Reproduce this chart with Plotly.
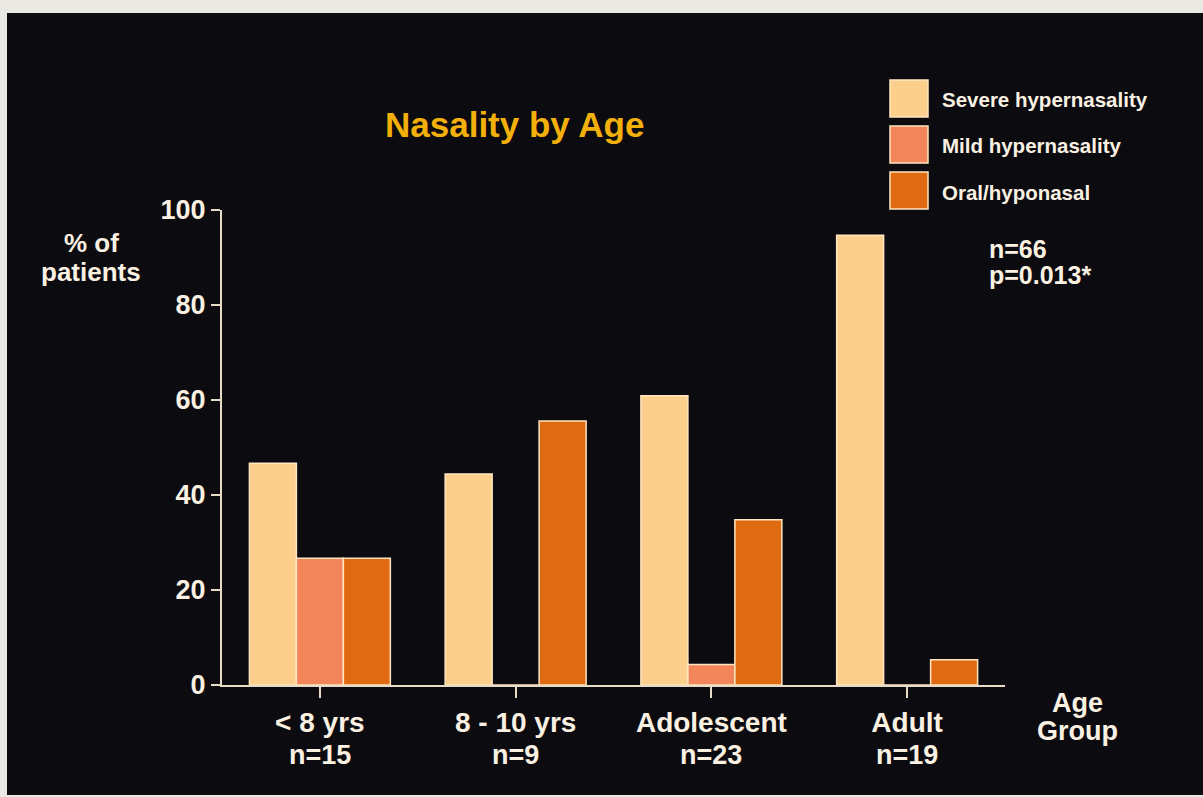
import plotly.graph_objects as go

# ---- data ----
age_groups = ["< 8 yrs", "8 - 10 yrs", "Adolescent", "Adult"]
group_n = [15, 9, 23, 19]
series_names = ["Severe hypernasality", "Mild hypernasality", "Oral/hyponasal"]
severe = [46.7, 44.4, 60.9, 94.7]
mild = [26.7, 0.0, 4.3, 0.0]
oral = [26.7, 55.6, 34.8, 5.3]
y_ticks = [0, 20, 40, 60, 80, 100]
total_n = 66
p_value = "0.013*"

series_values = [severe, mild, oral]
series_colors = ["#fccf8c", "#f2855a", "#e06a12"]

W, H = 1203, 797
L, R, T, B = 222, 198, 210, 112
PW, PH = W - L - R, H - T - B

def px(x):
    return (x - L) / PW

def py(y):
    return (H - B - y) / PH

TEXT = "#fbf1e2"
FONT = "Liberation Sans, Arial, sans-serif"

fig = go.Figure()
for name, vals, col in zip(series_names, series_values, series_colors):
    fig.add_trace(go.Bar(
        x=list(range(len(age_groups))), y=vals, name=name,
        marker=dict(color=col, line=dict(color="#ffe6c0", width=1.5)),
        showlegend=False,
    ))

shapes = [
    # light frame around the dark slide
    dict(type="rect", xref="paper", yref="paper", layer="below",
         x0=px(7), x1=px(W + 5), y0=py(13), y1=py(795),
         fillcolor="#0b0b10", line=dict(width=0)),
]
annotations = []

def label(text, x, y, size, color=TEXT, xanchor="center", xref="paper"):
    annotations.append(dict(
        text=text, x=x if xref != "paper" else px(x), y=py(y),
        xref=xref, yref="paper", xanchor=xanchor, yanchor="middle",
        showarrow=False,
        font=dict(family=FONT, size=size, color=color, weight="bold"),
    ))

label("Nasality by Age", 514, 124, 35, color="#f4b00a")
label("% of", 91, 243, 26)
label("patients", 91, 272, 26)
label(f"n={total_n}", 987, 249, 25, xanchor="left")
label(f"p={p_value}", 987, 275, 25, xanchor="left")
label("Age", 1077, 703, 27)
label("Group", 1077, 731, 27)

# sample sizes under each age-group tick label
for i, n in enumerate(group_n):
    label(f"n={n}", i, 755, 27, xref="x")

# legend swatches drawn as boxes with labels
legend_tops = [80, 126, 172]
for name, col, top in zip(series_names, series_colors, legend_tops):
    shapes.append(dict(type="rect", xref="paper", yref="paper",
                       x0=px(890), x1=px(928), y0=py(top), y1=py(top + 37),
                       fillcolor=col, line=dict(color="#ffe6c0", width=1.5)))
    label(name, 940, top + 20, 20.5, xanchor="left")

fig.update_layout(
    width=W, height=H,
    margin=dict(l=L, r=R, t=T, b=B),
    paper_bgcolor="#ebe9e4",
    plot_bgcolor="#0b0b10",
    barmode="group", bargap=0.28, bargroupgap=0.0,
    shapes=shapes, annotations=annotations,
    xaxis=dict(
        range=[-0.5, 3.5], tickmode="array",
        tickvals=list(range(len(age_groups))), ticktext=age_groups,
        showline=True, linecolor="#e9dcc6", linewidth=2,
        ticks="outside", ticklen=11, tickwidth=2, tickcolor="#e9dcc6",
        showgrid=False, zeroline=False,
        tickfont=dict(family=FONT, size=28, color=TEXT, weight="bold"),
    ),
    yaxis=dict(
        range=[0, 100], tickmode="array", tickvals=y_ticks,
        showline=True, linecolor="#e9dcc6", linewidth=2,
        ticks="outside", ticklen=9, tickwidth=2, tickcolor="#e9dcc6",
        showgrid=False, zeroline=False,
        tickfont=dict(family=FONT, size=27, color=TEXT, weight="bold"),
    ),
)

fig.write_html("out.html")
